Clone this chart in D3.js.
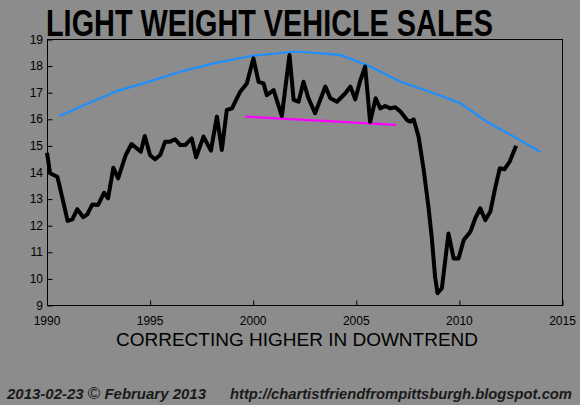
<!DOCTYPE html>
<html><head><meta charset="utf-8">
<script src="https://cdn.jsdelivr.net/npm/d3@7"></script>
<style>html,body{margin:0;padding:0;background:#8c8c8c;}svg{display:block;}</style>
</head><body>
<script>
const salesYears = [1990.0,1990.15,1990.5,1990.6,1991.0,1991.23,1991.47,1991.76,1991.96,1992.2,1992.48,1992.77,1992.96,1993.22,1993.45,1993.82,1994.1,1994.55,1994.74,1995.0,1995.24,1995.49,1995.73,1995.97,1996.21,1996.46,1996.7,1997.02,1997.23,1997.59,1997.95,1998.24,1998.48,1998.72,1998.97,1999.37,1999.69,2000.01,2000.26,2000.5,2000.66,2000.99,2001.39,2001.76,2001.96,2002.2,2002.44,2002.68,2003.0,2003.5,2003.74,2004.06,2004.47,2004.71,2004.95,2005.19,2005.43,2005.67,2005.94,2006.16,2006.4,2006.65,2006.89,2007.14,2007.46,2007.62,2007.78,2008.02,2008.26,2008.5,2008.66,2008.82,2008.94,2009.15,2009.47,2009.72,2009.96,2010.21,2010.53,2010.77,2011.01,2011.26,2011.5,2011.75,2011.96,2012.18,2012.44,2012.75];
const salesValues = [14.74,13.97,13.84,13.53,12.18,12.24,12.62,12.32,12.43,12.80,12.78,13.24,13.03,14.18,13.78,14.66,15.07,14.78,15.37,14.65,14.5,14.66,15.16,15.16,15.25,15.03,15.03,15.28,14.57,15.35,14.82,16.1,14.85,16.35,16.41,17.04,17.35,18.29,17.41,17.35,16.91,17.1,16.12,18.42,16.73,16.66,17.41,16.79,16.23,17.23,16.79,16.66,16.98,17.23,16.75,17.45,17.98,15.9,16.79,16.41,16.5,16.41,16.45,16.29,15.97,15.91,16.0,15.35,14.15,12.7,11.55,10.08,9.46,9.65,11.71,10.77,10.77,11.46,11.77,12.28,12.65,12.21,12.53,13.47,14.16,14.12,14.41,15.01];
const trendYears = [1990.6,1993.38,1994.83,1996.46,1998.08,1999.94,2001.96,2002.29,2004.22,2005.52,2007.14,2008.76,2010.05,2011.33,2012.63,2013.93];
const trendValues = [16.12,17.06,17.39,17.79,18.1,18.39,18.54,18.54,18.42,18.04,17.41,16.98,16.6,15.91,15.35,14.78];
const supportYears = [1999.61,2006.93];
const supportValues = [16.1,15.79];
const xTicks = [1990,1995,2000,2005,2010,2015];
const yTicks = [9,10,11,12,13,14,15,16,17,18,19];
const titleText = "LIGHT WEIGHT VEHICLE SALES";
const subtitleText = "CORRECTING HIGHER IN DOWNTREND";
const footerLeft = ["2013-02-23 ", "©", " February 2013"];
const footerRight = "http://chartistfriendfrompittsburgh.blogspot.com";

const W = 580, H = 405;
const svg = d3.select("body").append("svg").attr("width", W).attr("height", H);
svg.append("rect").attr("width", W).attr("height", H).attr("fill", "#8c8c8c");

const x = d3.scaleLinear().domain([1990, 2015]).range([47, 562.5]);
const y = d3.scaleLinear().domain([9, 19]).range([305.5, 39.5]);

// frame
svg.append("rect").attr("x", 47.5).attr("y", 39.5).attr("width", 515).attr("height", 266)
  .attr("fill", "none").attr("stroke", "#000").attr("stroke-width", 1);

// axes
const xAxis = d3.axisTop(x).tickValues(xTicks).tickSize(5).tickFormat(() => "");
const gx = svg.append("g").attr("transform", "translate(0,305.5)").call(xAxis);
gx.select(".domain").remove();
gx.selectAll("line").attr("stroke", "#000");
svg.append("g").selectAll("text").data(xTicks).join("text")
  .attr("x", d => x(d)).attr("y", 325)
  .attr("text-anchor", "middle").attr("font-family", "Liberation Sans, Arial, sans-serif")
  .attr("font-size", 12).attr("fill", "#000").text(d => d);

const yAxis = d3.axisRight(y).tickValues(yTicks).tickSize(5).tickFormat(() => "");
const gy = svg.append("g").attr("transform", "translate(47.5,0)").call(yAxis);
gy.select(".domain").remove();
gy.selectAll("line").attr("stroke", "#000");
svg.append("g").selectAll("text").data(yTicks).join("text")
  .attr("x", 43).attr("y", d => y(d) + 4)
  .attr("text-anchor", "end").attr("font-family", "Liberation Sans, Arial, sans-serif")
  .attr("font-size", 12).attr("fill", "#000").text(d => d);

const line = d3.line().x(d => x(d[0])).y(d => y(d[1]));

svg.append("path").datum(trendYears.map((d, i) => [d, trendValues[i]]))
  .attr("d", line).attr("fill", "none").attr("stroke", "#1e8fff").attr("stroke-width", 2.2);
svg.append("path").datum(supportYears.map((d, i) => [d, supportValues[i]]))
  .attr("d", line).attr("fill", "none").attr("stroke", "#ff00ff").attr("stroke-width", 2.2);
svg.append("path").datum(salesYears.map((d, i) => [d, salesValues[i]]))
  .attr("d", line).attr("fill", "none").attr("stroke", "#000").attr("stroke-width", 4)
  .attr("stroke-linejoin", "round");

// titles
svg.append("text").attr("x", 46).attr("y", 36)
  .attr("font-family", "Liberation Sans Narrow, Arial Narrow, Liberation Sans, sans-serif")
  .attr("font-weight", "bold").attr("font-size", 37).attr("fill", "#000")
  .attr("textLength", 447).attr("lengthAdjust", "spacingAndGlyphs").text(titleText);

svg.append("text").attr("x", 116).attr("y", 346)
  .attr("font-family", "Liberation Sans, Arial, sans-serif")
  .attr("font-size", 19).attr("fill", "#000")
  .attr("textLength", 362).attr("lengthAdjust", "spacingAndGlyphs").text(subtitleText);

const fl = svg.append("text").attr("x", 7).attr("y", 399)
  .attr("font-family", "Liberation Sans, Arial, sans-serif")
  .attr("font-size", 15).attr("font-weight", "bold").attr("font-style", "italic").attr("fill", "#1a1a1a")
  .attr("textLength", 199).attr("lengthAdjust", "spacingAndGlyphs");
fl.append("tspan").text(footerLeft[0]);
fl.append("tspan").attr("font-weight", "normal").attr("font-style", "normal").attr("font-size", 17).text(footerLeft[1]);
fl.append("tspan").text(footerLeft[2]);

svg.append("text").attr("x", 230).attr("y", 399)
  .attr("font-family", "Liberation Sans, Arial, sans-serif")
  .attr("font-size", 15).attr("font-weight", "bold").attr("font-style", "italic").attr("fill", "#1a1a1a")
  .attr("textLength", 342).attr("lengthAdjust", "spacingAndGlyphs").text(footerRight);
</script>
</body></html>
